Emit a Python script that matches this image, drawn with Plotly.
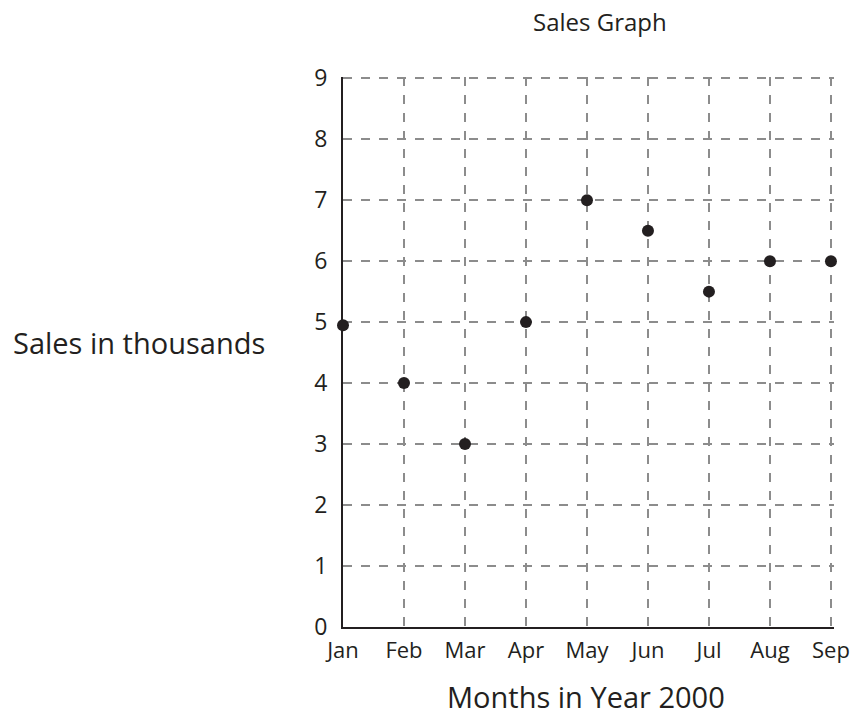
import plotly.graph_objects as go

months = ["Jan", "Feb", "Mar", "Apr", "May", "Jun", "Jul", "Aug", "Sep"]
sales = [4.95, 4, 3, 5, 7, 6.5, 5.5, 6, 6]
y_ticks = [0, 1, 2, 3, 4, 5, 6, 7, 8, 9]

xpos = list(range(len(months)))
font_family = "Open Sans"
dark = "#231f20"

fig = go.Figure()
fig.add_trace(go.Scatter(
    x=xpos, y=sales, mode="markers",
    marker=dict(size=12, color=dark),
    cliponaxis=False, showlegend=False,
))

fig.update_layout(
    width=850, height=716,
    margin=dict(l=343, r=16, t=77, b=89, autoexpand=False),
    paper_bgcolor="white", plot_bgcolor="white",
    font=dict(family=font_family, color=dark, size=23),
    xaxis=dict(
        range=[0, 8.05], tickvals=xpos, ticktext=months, automargin=False,
        ticklabeloverflow="allow",
        showgrid=True, gridcolor="#8c8c8c", gridwidth=1.5, griddash="dash",
        showline=True, linecolor=dark, linewidth=2,
        ticks="", zeroline=False, ticklabelstandoff=3,
        tickfont=dict(size=22),
    ),
    yaxis=dict(
        range=[0, 9.02], tickvals=y_ticks, automargin=False,
        ticklabeloverflow="allow",
        showgrid=True, gridcolor="#8c8c8c", gridwidth=1.5, griddash="dash",
        showline=True, linecolor=dark, linewidth=2,
        ticks="", zeroline=False, ticklabelstandoff=9,
    ),
    annotations=[
        dict(text="Sales Graph", xref="paper", yref="paper",
             x=0.5234, y=1.1, xanchor="center", yanchor="middle",
             showarrow=False, font=dict(size=24, family=font_family, color=dark)),
        dict(text="Months in Year 2000", xref="paper", yref="paper",
             x=0.495, y=-0.127, xanchor="center", yanchor="middle",
             showarrow=False, borderpad=0,
             font=dict(size=29, family=font_family, color=dark)),
        dict(text="Sales in thousands", xref="paper", yref="paper",
             x=-0.4155, y=0.518, xanchor="center", yanchor="middle",
             showarrow=False, font=dict(size=29, family=font_family, color=dark)),
    ],
)

fig.write_html("out.html", config={"displayModeBar": False},
               post_script="document.body.style.margin='0';")
